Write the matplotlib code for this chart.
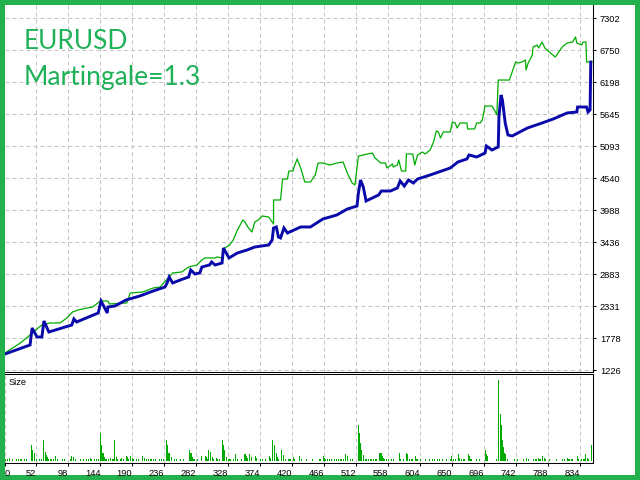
"""
Strategy tester style chart: balance (blue) and equity (green) by trade number,
with the per-trade lot size histogram underneath. Green frame around the picture.
"""
import matplotlib
matplotlib.use("Agg")
import matplotlib.pyplot as plt
from matplotlib.patches import Rectangle

OUT_PNG = "out.png"
W, H = 640, 480

C_FRAME = "#22b14c"
C_TITLE = "#1fb158"
C_BALANCE = "#0a0aaa"
C_EQUITY = "#00ac00"
C_BARS = "#00aa00"
C_GRID = "#c6c6c6"

# balance curve (trade number, account value)
bal_trade = [7, 43, 46, 53, 60, 63, 70, 103, 106, 110, 141, 145, 154, 155, 165, 181,
             201, 220, 237, 240, 243, 248, 259, 271, 274, 280, 287, 290, 301, 304, 309,
             319, 321, 329, 341, 355, 366, 386, 391, 393, 397, 400, 403, 408, 413, 432,
             446, 464, 484, 499, 513, 515, 518, 522, 526, 532, 544, 548, 561, 571, 575,
             581, 587, 594, 600, 618, 647, 658, 671, 674, 685, 697, 699, 707, 716, 717,
             720, 722, 726, 730, 736, 758, 779, 795, 815, 829, 830, 843, 845, 848, 849]
bal_value = [1507, 1663, 1956, 1801, 1801, 2077, 1887, 2008, 2112, 2060, 2215, 2422, 2215,
             2319, 2336, 2440, 2509, 2595, 2664, 2733, 2837, 2733, 2785, 2837, 2957, 2888,
             2906, 3009, 3044, 3096, 3044, 3078, 3337, 3165, 3251, 3303, 3354, 3389, 3475,
             3682, 3700, 3527, 3510, 3682, 3596, 3700, 3700, 3838, 3907, 4010, 4062, 4287,
             4511, 4390, 4149, 4183, 4252, 4321, 4321, 4373, 4494, 4407, 4511, 4459, 4528,
             4597, 4718, 4822, 4874, 4943, 4908, 4977, 5098, 5029, 5081, 5599, 5978, 5892,
             5495, 5288, 5271, 5409, 5495, 5564, 5668, 5685, 5771, 5771, 5685, 5719, 6548]

# equity curve
eq_trade = [7, 29, 43, 53, 60, 72, 86, 96, 104, 112, 125, 133, 144, 155, 157, 182, 187,
            205, 220, 230, 248, 261, 271, 283, 290, 294, 309, 312, 319, 323, 330, 335, 341,
            345, 349, 352, 356, 362, 366, 371, 377, 386, 393, 393, 403, 406, 413, 415, 421,
            422, 427, 432, 438, 446, 453, 457, 464, 474, 484, 493, 499, 506, 510, 515, 535,
            539, 547, 554, 556, 564, 565, 571, 573, 577, 583, 584, 593, 596, 600, 607, 611,
            618, 623, 627, 630, 633, 637, 647, 650, 654, 657, 661, 671, 672, 682, 685, 690,
            693, 697, 707, 712, 714, 716, 732, 736, 741, 745, 750, 755, 756, 759, 765, 766,
            772, 774, 779, 783, 791, 798, 802, 808, 815, 823, 827, 829, 836, 838, 842, 843,
            851]
eq_value = [1525, 1697, 1835, 1939, 2008, 2043, 2043, 2129, 2232, 2267, 2301, 2319, 2422,
            2422, 2371, 2388, 2560, 2578, 2647, 2664, 2906, 2923, 3009, 3044, 3130, 3165,
            3165, 3182, 3165, 3337, 3389, 3475, 3647, 3734, 3821, 3786, 3700, 3613, 3786,
            3821, 3890, 3872, 3751, 4166, 4166, 4528, 4528, 4666, 4666, 4718, 4874, 4718,
            4476, 4476, 4597, 4804, 4804, 4770, 4804, 4822, 4632, 4459, 4425, 4925, 4977,
            4891, 4804, 4804, 4718, 4787, 4735, 4770, 4856, 4666, 4666, 4960, 4960, 4770,
            4943, 4994, 4960, 5029, 5167, 5357, 5340, 5236, 5340, 5340, 5512, 5495, 5409,
            5495, 5495, 5392, 5392, 5495, 5495, 5547, 5788, 5788, 5685, 5633, 6237, 6237,
            6375, 6548, 6531, 6548, 6583, 6410, 6531, 6669, 6807, 6841, 6790, 6893, 6790,
            6703, 6634, 6703, 6807, 6876, 6893, 6980, 6876, 6841, 6893, 6893, 6548, 6548]

# lot size per trade (trade number, lots)
size_bars = [
    (8, 0.01), (10, 0.01), (14, 0.015), (18, 0.01), (23, 0.01), (26, 0.01), (30, 0.01),
    (35, 0.01), (38, 0.01), (45, 0.08), (46, 0.055), (47, 0.045), (49, 0.04), (50, 0.02),
    (52, 0.01), (57, 0.01), (59, 0.01), (62, 0.105), (63, 0.055), (65, 0.045), (66, 0.03),
    (68, 0.02), (69, 0.01), (72, 0.01), (74, 0.01), (77, 0.01), (79, 0.025), (80, 0.02),
    (82, 0.01), (89, 0.01), (92, 0.01), (101, 0.01), (103, 0.025), (105, 0.02), (106, 0.01),
    (109, 0.01), (116, 0.01), (120, 0.01), (124, 0.01), (127, 0.01), (130, 0.015),
    (132, 0.01), (135, 0.01), (139, 0.01), (142, 0.01), (144, 0.14), (145, 0.08),
    (147, 0.04), (148, 0.04), (150, 0.02), (151, 0.01), (153, 0.01), (156, 0.01),
    (158, 0.015), (161, 0.01), (163, 0.01), (165, 0.105), (167, 0.02), (168, 0.01),
    (173, 0.01), (175, 0.015), (177, 0.01), (181, 0.025), (183, 0.02), (184, 0.01),
    (188, 0.025), (190, 0.015), (191, 0.01), (196, 0.01), (199, 0.01), (205, 0.025),
    (207, 0.015), (208, 0.01), (211, 0.01), (213, 0.01), (216, 0.01), (218, 0.01),
    (220, 0.01), (223, 0.01), (229, 0.01), (232, 0.01), (235, 0.01), (239, 0.105),
    (240, 0.08), (242, 0.04), (243, 0.04), (244, 0.03), (246, 0.02), (247, 0.01),
    (251, 0.01), (254, 0.01), (259, 0.01), (263, 0.01), (272, 0.055), (273, 0.04),
    (275, 0.04), (276, 0.02), (278, 0.01), (280, 0.01), (284, 0.01),
    (289, 0.025), (290, 0.01), (295, 0.025), (296, 0.02), (298, 0.01), (300, 0.055),
    (302, 0.045), (303, 0.04), (305, 0.02), (306, 0.01), (311, 0.015), (312, 0.01),
    (316, 0.01), (319, 0.105), (321, 0.08), (322, 0.055), (323, 0.04), (325, 0.02),
    (326, 0.01), (329, 0.01), (331, 0.01), (335, 0.01), (338, 0.035), (339, 0.02),
    (341, 0.01), (347, 0.01), (352, 0.035), (354, 0.025), (355, 0.015), (356, 0.01),
    (359, 0.035), (361, 0.02), (362, 0.01), (367, 0.025), (368, 0.015), (369, 0.01),
    (374, 0.01), (377, 0.01), (381, 0.01), (387, 0.025), (388, 0.015), (392, 0.105),
    (394, 0.08), (395, 0.04), (397, 0.04), (398, 0.02), (400, 0.01), (404, 0.055),
    (405, 0.045), (407, 0.03), (408, 0.02), (410, 0.01), (414, 0.01), (416, 0.01),
    (418, 0.01), (422, 0.02), (423, 0.01), (430, 0.025), (431, 0.015), (433, 0.01),
    (441, 0.01), (449, 0.01), (459, 0.01), (461, 0.01), (465, 0.025), (466, 0.015),
    (468, 0.01), (471, 0.01), (474, 0.01), (477, 0.01), (480, 0.01), (483, 0.01),
    (486, 0.01), (489, 0.01), (491, 0.01), (494, 0.01), (497, 0.035), (499, 0.025),
    (500, 0.01), (503, 0.01), (506, 0.01), (515, 0.18), (516, 0.14), (518, 0.09),
    (519, 0.055), (520, 0.04), (522, 0.03), (523, 0.02), (525, 0.01), (527, 0.01),
    (529, 0.01), (532, 0.01), (534, 0.01), (537, 0.01), (539, 0.01), (541, 0.01),
    (546, 0.04), (548, 0.04), (549, 0.025), (551, 0.015), (552, 0.01), (556, 0.01),
    (558, 0.01), (563, 0.01), (566, 0.01), (574, 0.04),
    (576, 0.01), (580, 0.01), (584, 0.04), (585, 0.035), (586, 0.025), (588, 0.01),
    (592, 0.01), (597, 0.025), (598, 0.01), (600, 0.01), (604, 0.01), (612, 0.01),
    (617, 0.01), (621, 0.01), (625, 0.01), (628, 0.01), (632, 0.01), (636, 0.01),
    (641, 0.01), (642, 0.01), (647, 0.01), (649, 0.025), (651, 0.01), (655, 0.01),
    (659, 0.035), (660, 0.015), (663, 0.01), (666, 0.01), (668, 0.01), (673, 0.035),
    (675, 0.025), (676, 0.01), (678, 0.01), (685, 0.01), (689, 0.01), (697, 0.055),
    (699, 0.035), (700, 0.025), (701, 0.01), (713, 0.01), (716, 0.405), (717, 0.305),
    (719, 0.235), (720, 0.18), (722, 0.105), (723, 0.07), (725, 0.04), (726, 0.035),
    (727, 0.025), (729, 0.01), (739, 0.01), (743, 0.01), (752, 0.01), (757, 0.015),
    (759, 0.01), (767, 0.01), (769, 0.01), (771, 0.01), (774, 0.015), (776, 0.01),
    (780, 0.025), (782, 0.015), (783, 0.01), (784, 0.01), (790, 0.01), (800, 0.01),
    (809, 0.01), (811, 0.01), (815, 0.015), (817, 0.01), (819, 0.01), (822, 0.01),
    (830, 0.025), (832, 0.01), (836, 0.01), (838, 0.01), (840, 0.01), (842, 0.035),
    (844, 0.015), (845, 0.01), (850, 0.08),
]

y_ticks = [1226, 1778, 2331, 2883, 3436, 3988, 4540, 5093, 5645, 6198, 6750, 7302]
x_ticks = [52, 98, 144, 190, 236, 282, 328, 374, 420, 466, 512, 558, 604, 650, 696,
           742, 788, 834]

X_MIN, X_MAX = 7.0, 852.2
Y_MIN, Y_MAX = 1205, 7532


def fx(px):
    return px / W


def fy(py):
    return 1 - py / H


def style_grid(ax):
    ax.set_axisbelow(True)
    ax.grid(True, color=C_GRID, linewidth=0.75, linestyle=(0, (3.8, 2.9)))


def build():
    plt.rcParams["font.family"] = ["Liberation Sans", "DejaVu Sans"]
    fig = plt.figure(figsize=(W / 100, H / 100), dpi=100)
    fig.patch.set_facecolor(C_FRAME)
    fig.add_artist(Rectangle((fx(5), fy(475)), fx(630), 470 / H,
                             transform=fig.transFigure, facecolor="white",
                             edgecolor="none", zorder=-1))

    ax = fig.add_axes([fx(5), fy(371.5), fx(588), fy(5) - fy(371.5)])
    ax_sz = fig.add_axes([fx(5), fy(462.7), fx(588), fy(373.8) - fy(462.7)])

    # main panel: equity under balance
    ax.plot(eq_trade, eq_value, color=C_EQUITY, linewidth=0.9, zorder=3)
    ax.plot(bal_trade, bal_value, color=C_BALANCE, linewidth=2.1, zorder=4,
            solid_joinstyle="miter")
    ax.set_xlim(X_MIN, X_MAX)
    ax.set_ylim(Y_MIN, Y_MAX)
    ax.set_xticks(x_ticks)
    ax.tick_params(axis="x", length=0, labelbottom=False)
    ax.set_yticks(y_ticks)
    ax.set_yticklabels([str(v) for v in y_ticks])
    ax.yaxis.tick_right()
    ax.tick_params(axis="y", length=2.5, width=0.75, pad=2.5, labelsize=6.7,
                   colors="black")
    style_grid(ax)
    for side in ("left", "top"):
        ax.spines[side].set_visible(False)
    for side in ("right", "bottom"):
        ax.spines[side].set_linewidth(0.75)
        ax.spines[side].set_color("black")

    # size panel
    sz_t = [t for t, _ in size_bars]
    sz_v = [v for _, v in size_bars]
    ax_sz.bar(sz_t, sz_v, width=1.5, color=C_BARS, linewidth=0, zorder=3,
              antialiased=False)
    ax_sz.set_xlim(X_MIN, X_MAX)
    ax_sz.set_ylim(-0.0085, 0.4375)
    ax_sz.set_yticks([])
    ax_sz.set_xticks([X_MIN] + x_ticks)
    ax_sz.set_xticklabels(["0"] + [str(v) for v in x_ticks])
    ax_sz.tick_params(axis="x", length=2.5, width=0.75, pad=2, labelsize=6.7)
    labels = ax_sz.get_xticklabels()
    labels[0].set_horizontalalignment("left")
    for lab in labels[1:]:
        lab.set_horizontalalignment("right")
    ax_sz.set_axisbelow(True)
    ax_sz.grid(True, axis="x", color=C_GRID, linewidth=0.75, linestyle=(0, (3.8, 2.9)))
    ax_sz.spines["left"].set_visible(False)
    for side in ("right", "bottom", "top"):
        ax_sz.spines[side].set_linewidth(0.75)
        ax_sz.spines[side].set_color("black")
    ax_sz.text(fx(9) - fx(5), 0.9, "Size", transform=ax_sz.transAxes, fontsize=6.7,
               ha="left", va="center")

    fig.text(fx(24), fy(49.3), "EURUSD", fontsize=19, color=C_TITLE,
             family=["Lato", "DejaVu Sans"], va="baseline", ha="left")
    fig.text(fx(24), fy(84.5), "Martingale=1.3", fontsize=19, color=C_TITLE,
             family=["Lato", "DejaVu Sans"], va="baseline", ha="left")

    fig.savefig(OUT_PNG, dpi=100, facecolor=fig.get_facecolor())
    plt.close(fig)


if __name__ == "__main__":
    build()
